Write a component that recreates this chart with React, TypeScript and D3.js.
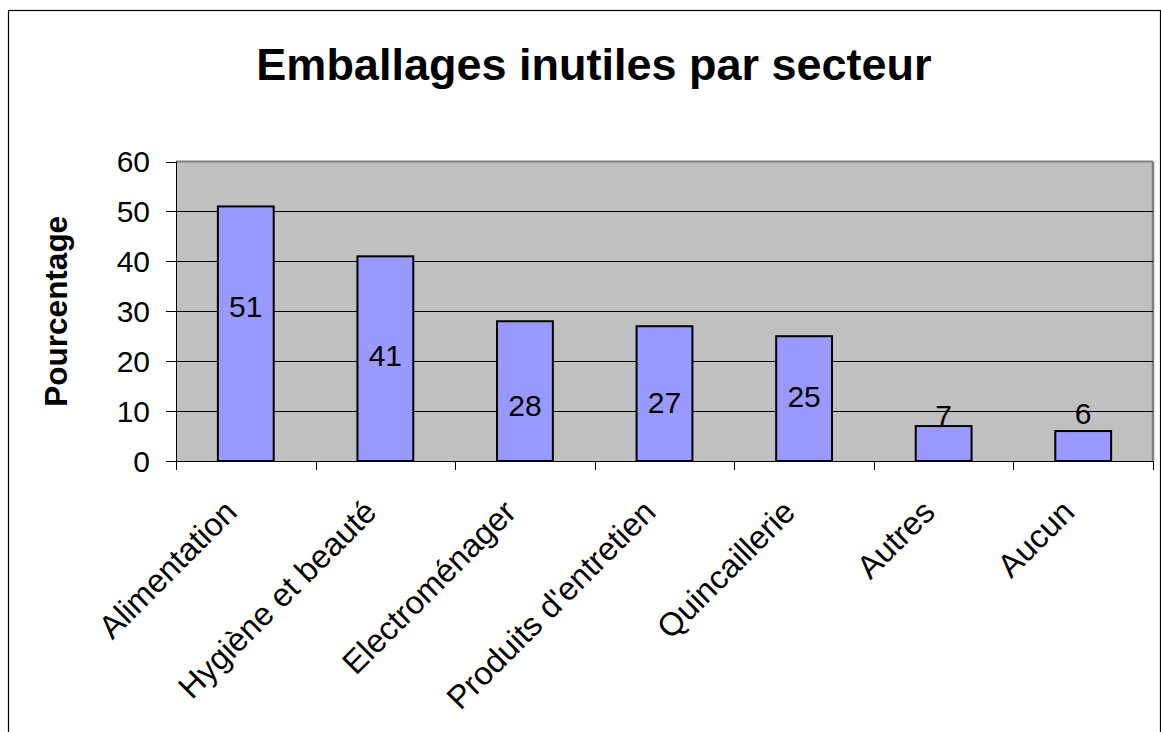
import React from 'react'
import * as d3 from 'd3'

const categories = [
  'Alimentation',
  'Hygiène et beauté',
  'Electroménager',
  "Produits d'entretien",
  'Quincaillerie',
  'Autres',
  'Aucun',
]
const values = [51, 41, 28, 27, 25, 7, 6]
// where the value label sits, in the axis units (as placed in the original)
const labelAt = [31.1, 21.2, 11.2, 11.7, 13, 9.2, 9.5]
const yTicks = [0, 10, 20, 30, 40, 50, 60]

const W = 1161
const H = 732
const left = 176
const right = 1153
const top = 161.5
const bottom = 461

const App = () => {
  const x = d3
    .scaleBand<string>()
    .domain(categories)
    .range([left, right])
    .paddingInner(0.6)
    .paddingOuter(0.3)

  const y = d3.scaleLinear().domain([0, 60]).range([bottom, top])

  const step = (right - left) / categories.length
  const crisp = (v: number) => Math.round(v) + 0.5

  return (
    <>
      <style>{'body{margin:0;overflow:hidden}'}</style>
      <svg
        width={W}
        height={H}
        style={{ display: 'block', fontFamily: 'Arial, "Liberation Sans", sans-serif' }}
      >
        <rect x={0} y={0} width={W} height={H} fill="#fff" />
        {/* chart frame */}
        <rect x={8.5} y={10.5} width={1152} height={760} fill="none" stroke="#000" strokeWidth={1.2} />

        <text x={594} y={80} textAnchor="middle" fontSize={45} fontWeight="bold">
          Emballages inutiles par secteur
        </text>

        {/* plot area */}
        <rect x={left} y={top} width={right - left} height={bottom - top} fill="#C0C0C0" />
        <line x1={left} x2={right} y1={top} y2={top} stroke="#808080" strokeWidth={2} />
        <line x1={right} x2={right} y1={top} y2={bottom} stroke="#808080" strokeWidth={2.5} />

        {yTicks.slice(1, -1).map((t) => (
          <line key={'g' + t} x1={left} x2={right} y1={crisp(y(t))} y2={crisp(y(t))} stroke="#000" strokeWidth={1} />
        ))}

        {/* bars */}
        {values.map((v, i) => (
          <rect
            key={categories[i]}
            x={x(categories[i])}
            y={y(v)}
            width={x.bandwidth()}
            height={bottom - y(v)}
            fill="#9999FF"
            stroke="#000"
            strokeWidth={2}
          />
        ))}

        {values.map((v, i) => (
          <text
            key={'l' + i}
            x={(x(categories[i]) as number) + x.bandwidth() / 2}
            y={y(labelAt[i])}
            dy="0.36em"
            textAnchor="middle"
            fontSize={30}
          >
            {v}
          </text>
        ))}

        {/* axes */}
        <line x1={crisp(left)} x2={crisp(left)} y1={top} y2={bottom} stroke="#000" strokeWidth={1} />
        <line x1={left} x2={right} y1={crisp(bottom)} y2={crisp(bottom)} stroke="#000" strokeWidth={1} />

        {yTicks.map((t) => (
          <g key={'t' + t}>
            <line x1={left - 10} x2={left} y1={crisp(y(t))} y2={crisp(y(t))} stroke="#000" strokeWidth={1} />
            <text x={150} y={y(t)} dy="0.36em" textAnchor="end" fontSize={30}>
              {t}
            </text>
          </g>
        ))}

        {d3.range(categories.length + 1).map((i) => (
          <line
            key={'xt' + i}
            x1={crisp(left + i * step)}
            x2={crisp(left + i * step)}
            y1={bottom}
            y2={bottom + 9}
            stroke="#000"
            strokeWidth={1}
          />
        ))}

        {categories.map((c) => (
          <text
            key={'c' + c}
            transform={`translate(${(x(c) as number) + x.bandwidth() / 2 - 7},${bottom + 53}) rotate(-45)`}
            textAnchor="end"
            fontSize={32.5}
          >
            {c}
          </text>
        ))}

        <text
          transform={`translate(67,${(top + bottom) / 2}) rotate(-90)`}
          textAnchor="middle"
          fontSize={31.5}
          fontWeight="bold"
        >
          Pourcentage
        </text>
      </svg>
    </>
  )
}

export default App
